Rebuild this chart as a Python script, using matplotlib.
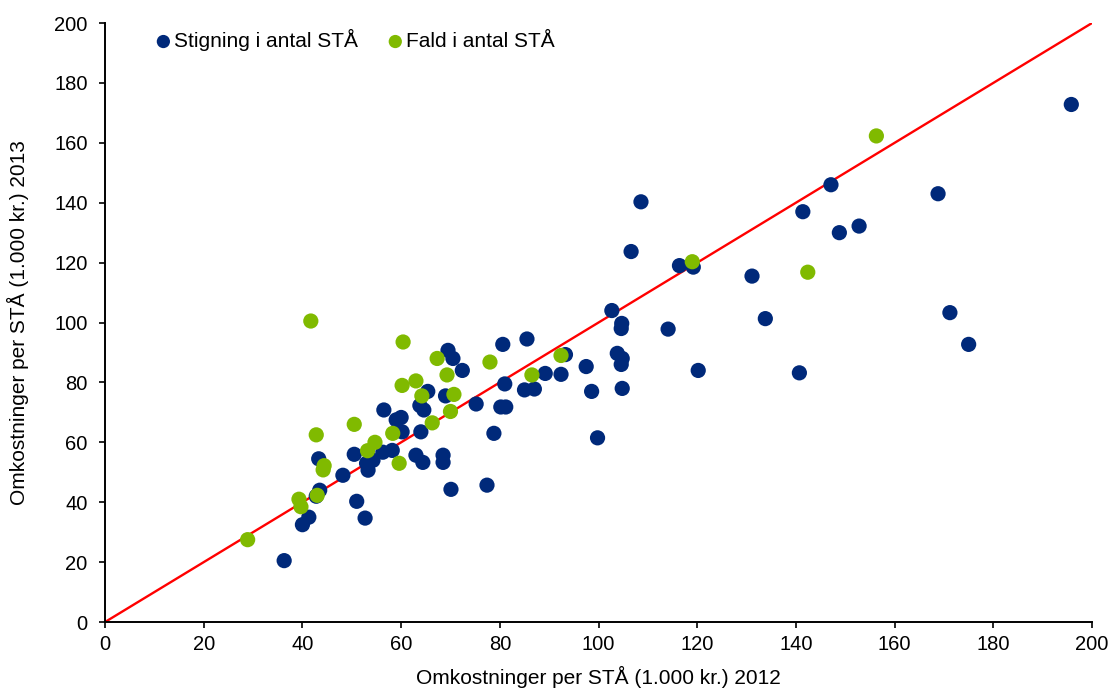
import matplotlib
matplotlib.use("Agg")
import matplotlib.pyplot as plt

plt.rcParams['font.family'] = ['Liberation Sans', 'DejaVu Sans']

# Stigning i antal STÅ (blue)
up_x = [36.3, 40.0, 41.3, 42.8, 43.5, 43.3, 51.0, 52.7, 48.2, 50.5, 53.0, 53.3, 54.3,
        56.5, 56.3, 58.2, 59.0, 60.0, 60.2, 63.0, 64.0, 64.4, 63.8, 64.6, 65.4, 68.5,
        68.5, 69.0, 69.5, 70.5, 70.1, 72.4, 75.2, 77.4, 78.8, 80.2, 81.2, 80.6, 81.0,
        85.0, 85.5, 87.0, 89.2, 92.4, 93.3, 97.5, 98.6, 99.8, 102.7, 103.8, 104.7,
        104.6, 104.8, 104.6, 104.8, 106.6, 108.6, 114.1, 116.4, 119.2, 120.2, 131.1,
        133.8, 140.7, 141.4, 147.1, 148.8, 152.8, 168.8, 171.2, 175.0, 195.8]
up_y = [20.5, 32.5, 35.0, 42.0, 44.0, 54.5, 40.3, 34.7, 49.0, 56.0, 53.0, 50.7, 54.0,
        70.8, 56.7, 57.3, 67.5, 68.3, 63.5, 55.7, 63.5, 53.3, 72.3, 70.8, 77.0, 55.7,
        53.3, 75.5, 90.7, 88.0, 44.3, 84.0, 72.8, 45.7, 63.0, 71.8, 71.8, 92.7, 79.5,
        77.5, 94.5, 77.8, 83.0, 82.7, 89.3, 85.3, 77.0, 61.5, 104.0, 89.7, 99.7,
        98.0, 88.0, 86.0, 78.0, 123.7, 140.3, 97.8, 119.0, 118.5, 84.0, 115.5,
        101.3, 83.2, 137.0, 146.0, 130.0, 132.2, 143.0, 103.3, 92.7, 172.8]

# Fald i antal STÅ (green)
down_x = [28.9, 39.3, 39.7, 43.0, 42.8, 41.7, 44.2, 44.4, 50.5, 53.2, 54.7, 58.3,
          59.6, 60.2, 60.4, 63.0, 64.2, 66.3, 67.3, 69.3, 70.0, 70.7, 78.0, 86.5,
          92.4, 119.0, 142.4, 156.3]
down_y = [27.5, 41.0, 38.5, 42.3, 62.5, 100.5, 50.8, 52.2, 66.0, 57.2, 60.0, 63.0,
          53.0, 79.0, 93.5, 80.5, 75.5, 66.5, 88.0, 82.5, 70.3, 76.0, 86.8, 82.5,
          89.0, 120.3, 116.8, 162.3]

blue = '#00297A'
green = '#80BA00'
FS = 14.5

fig = plt.figure(figsize=(11.09, 6.89), dpi=100)
ax = fig.add_axes([0.0947, 0.0972, 0.8900, 0.8694])

ax.plot([0, 200], [0, 200], color='#FF0000', lw=1.7, zorder=1)
ax.scatter(up_x, up_y, s=120, color=blue, edgecolors='none', zorder=2,
           label='Stigning i antal STÅ')
ax.scatter(down_x, down_y, s=120, color=green, edgecolors='none', zorder=3,
           label='Fald i antal STÅ')

ax.set_xlim(0, 200)
ax.set_ylim(0, 200)
ax.set_xticks(range(0, 201, 20))
ax.set_yticks(range(0, 201, 20))
for s in ['top', 'right']:
    ax.spines[s].set_visible(False)
for s in ['left', 'bottom']:
    ax.spines[s].set_linewidth(1.4)
    ax.spines[s].set_color('black')
ax.tick_params(direction='out', length=4.5, width=1.2, labelsize=FS, colors='black')
ax.tick_params(axis='x', pad=5)
ax.tick_params(axis='y', pad=8)

ax.set_xlabel('Omkostninger per STÅ (1.000 kr.) 2012', fontsize=FS + 0.5)
ax.set_ylabel('Omkostninger per STÅ (1.000 kr.) 2013', fontsize=FS + 0.5)
ax.xaxis.set_label_coords(0.5, -0.074)
ax.yaxis.set_label_coords(-0.077, 0.5)

leg = ax.legend(loc='center left', bbox_to_anchor=(0.1398, 0.942),
                bbox_transform=fig.transFigure, ncol=2, frameon=False,
                fontsize=FS + 0.5, handlelength=0.8, handletextpad=0.1,
                columnspacing=1.4, markerscale=0.87, borderaxespad=0, borderpad=0)

fig.savefig('out.png', dpi=100)
